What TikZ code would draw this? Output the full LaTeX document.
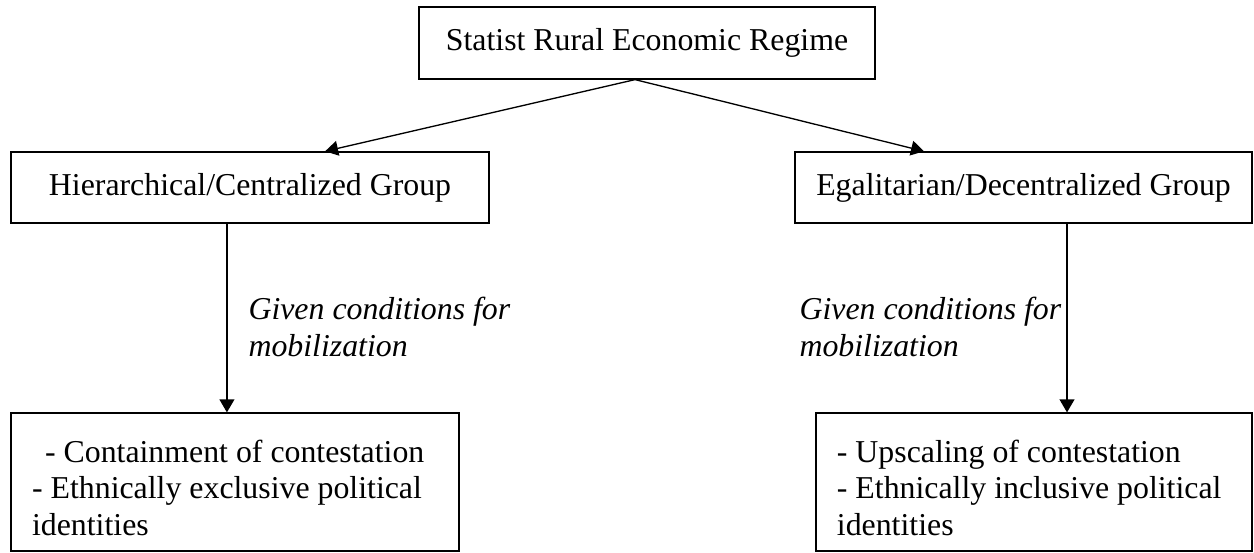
\documentclass[tikz,border=0pt]{standalone}
\usepackage{fontspec}
\setmainfont{Liberation Serif}
\usetikzlibrary{arrows.meta}
\begin{document}
\begin{tikzpicture}[x=0.377pt, y=-0.377pt,
  every node/.style={font=\fontsize{12}{13.8}\selectfont},
  box/.style={draw, line width=0.5pt, inner sep=0pt, align=center},
  outbox/.style={draw, line width=0.5pt, inner xsep=7.9pt, inner ysep=0pt, align=flush left, minimum height=52pt},
  note/.style={font=\fontsize{12}{13.8}\selectfont\itshape, align=left, inner sep=0pt, anchor=north west},
  arr/.style={-{Triangle[length=4.9pt,width=5.6pt]}, line width=0.5pt}]
\useasboundingbox (0,0) rectangle (1254,552);
\node[box, minimum width=171.9pt, minimum height=27.1pt] (regime) at (647,43) {Statist Rural Economic Regime};
\node[box, minimum width=180.2pt, minimum height=26.8pt] (hier) at (250,187.5) {Hierarchical/Centralized Group};
\node[box, minimum width=172.3pt, minimum height=26.8pt] (egal) at (1023.5,187.5) {Egalitarian/Decentralized Group};
\node[outbox, text width=153pt] (contain) at (235,482) {\rule{0pt}{12.8pt}\hspace{4.9pt}- Containment of contestation\\- Ethnically exclusive political\\identities};
\node[outbox, text width=148.6pt] (upscale) at (1034,482) {\rule{0pt}{12.8pt}- Upscaling of contestation\\- Ethnically inclusive political\\identities};
\node[note] (condl) at (248,297) {Given conditions for\\mobilization};
\node[note] (condr) at (799,297) {Given conditions for\\mobilization};
% arrows
\draw[arr] ([xshift=-4.5pt]regime.south) -- ([xshift=28.3pt]hier.north);
\draw[arr] ([xshift=-4.5pt]regime.south) -- ([xshift=-37.5pt]egal.north);
\draw[arr] ([xshift=-8.7pt]hier.south) coordinate (hdrop) -- (hdrop |- contain.north);
\draw[arr] ([xshift=16.4pt]egal.south) coordinate (edrop) -- (edrop |- upscale.north);
\end{tikzpicture}
\end{document}
